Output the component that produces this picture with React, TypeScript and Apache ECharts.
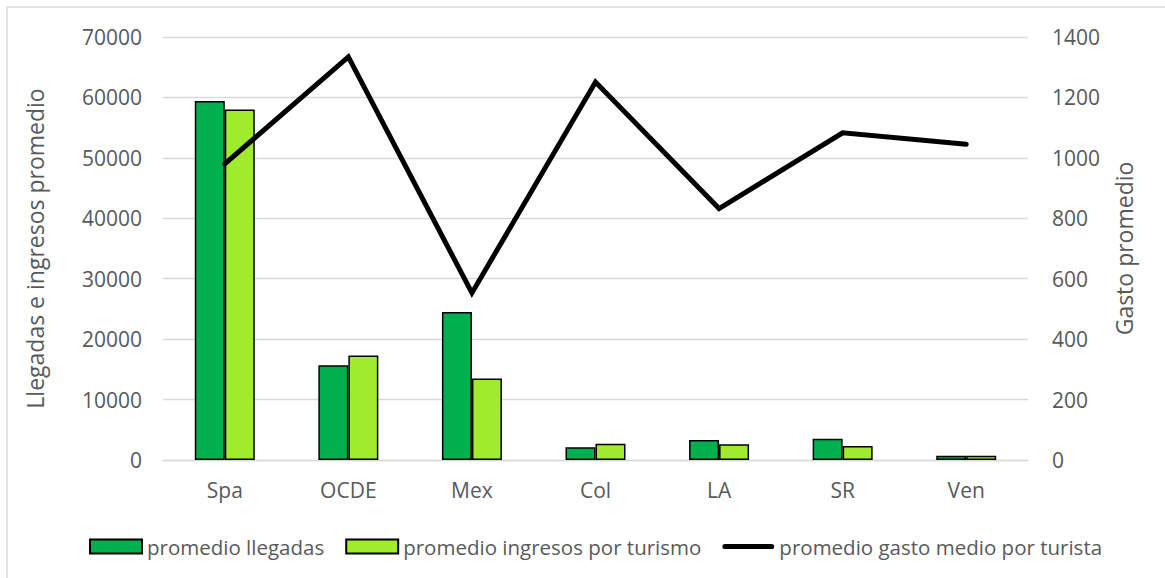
import React, { useEffect, useRef } from "react";
import * as echarts from "echarts";

// Categories and series values
const categories = ["Spa", "OCDE", "Mex", "Col", "LA", "SR", "Ven"];
const llegadas = [59400, 15700, 24500, 2100, 3300, 3500, 700];
const ingresos = [58000, 17300, 13500, 2700, 2600, 2300, 700];
const gastoMedio = [980, 1334, 553, 1251, 832, 1083, 1045];

const seriesNames = [
  "promedio llegadas",
  "promedio ingresos por turismo",
  "promedio gasto medio por turista",
];
const leftAxisName = "Llegadas e ingresos promedio";
const rightAxisName = "Gasto promedio";

const FONT = "'Open Sans', 'Noto Sans', sans-serif";
const TEXT = "#595959";
const GRID = "#d9d9d9";

// Thick rounded stroke used as the legend icon of the line series
const LINE_ICON =
  "path://M2.5,0 H49.5 A2.5,2.5 0 0 1 49.5,5 H2.5 A2.5,2.5 0 0 1 2.5,0 Z";

const plain = (v: number) => String(v);

export default function App() {
  const ref = useRef<HTMLDivElement>(null);

  useEffect(() => {
    document.body.style.margin = "0";
    if (!ref.current) return;
    const chart = echarts.init(ref.current, undefined, { renderer: "svg" });
    chart.setOption({
      animation: false,
      backgroundColor: "#ffffff",
      textStyle: { fontFamily: FONT },
      graphic: [
        {
          type: "rect",
          shape: { x: 7, y: 7, width: 1180, height: 600 },
          style: { fill: "none", stroke: "#d9d9d9", lineWidth: 1.5 },
          silent: true,
        },
      ],
      grid: { left: 163, right: 137, top: 37, bottom: 118 },
      legend: {
        left: 84,
        top: 531,
        itemWidth: 52,
        itemHeight: 14,
        itemGap: 21,
        textStyle: { fontFamily: FONT, fontSize: 20.5, color: TEXT },
        data: [
          { name: seriesNames[0], icon: "rect" },
          { name: seriesNames[1], icon: "rect" },
          { name: seriesNames[2], icon: LINE_ICON },
        ],
      },
      xAxis: {
        type: "category",
        data: categories,
        axisLine: { show: true, lineStyle: { color: GRID, width: 1.3 } },
        axisTick: { show: false },
        axisLabel: { color: TEXT, fontSize: 21, fontFamily: FONT, margin: 19 },
      },
      yAxis: [
        {
          type: "value",
          min: 0,
          max: 70000,
          interval: 10000,
          name: leftAxisName,
          nameLocation: "middle",
          nameGap: 117,
          nameTextStyle: { color: TEXT, fontSize: 23, fontFamily: FONT },
          axisLine: { show: false },
          axisTick: { show: false },
          axisLabel: {
            color: TEXT,
            fontSize: 21,
            fontFamily: FONT,
            margin: 21,
            formatter: plain,
          },
          splitLine: { lineStyle: { color: GRID, width: 1.3 } },
        },
        {
          type: "value",
          min: 0,
          max: 1400,
          interval: 200,
          name: rightAxisName,
          nameLocation: "middle",
          nameGap: 84,
          nameTextStyle: { color: TEXT, fontSize: 23, fontFamily: FONT },
          axisLine: { show: false },
          axisTick: { show: false },
          axisLabel: {
            color: TEXT,
            fontSize: 21,
            fontFamily: FONT,
            margin: 24,
            formatter: plain,
          },
          splitLine: { show: false },
        },
      ],
      series: [
        {
          name: seriesNames[0],
          type: "bar",
          data: llegadas,
          barWidth: 30,
          barGap: "0%",
          itemStyle: { color: "#00b04f", borderColor: "#000000", borderWidth: 1.5 },
        },
        {
          name: seriesNames[1],
          type: "bar",
          data: ingresos,
          barWidth: 30,
          barGap: "0%",
          itemStyle: { color: "#a0eb2e", borderColor: "#000000", borderWidth: 1.5 },
        },
        {
          name: seriesNames[2],
          type: "line",
          yAxisIndex: 1,
          data: gastoMedio,
          symbol: "none",
          lineStyle: { color: "#000000", width: 5, join: "miter", cap: "round" },
          itemStyle: { color: "#000000" },
        },
      ],
    });
    return () => chart.dispose();
  }, []);

  return <div ref={ref} style={{ width: 1165, height: 578 }} />;
}
